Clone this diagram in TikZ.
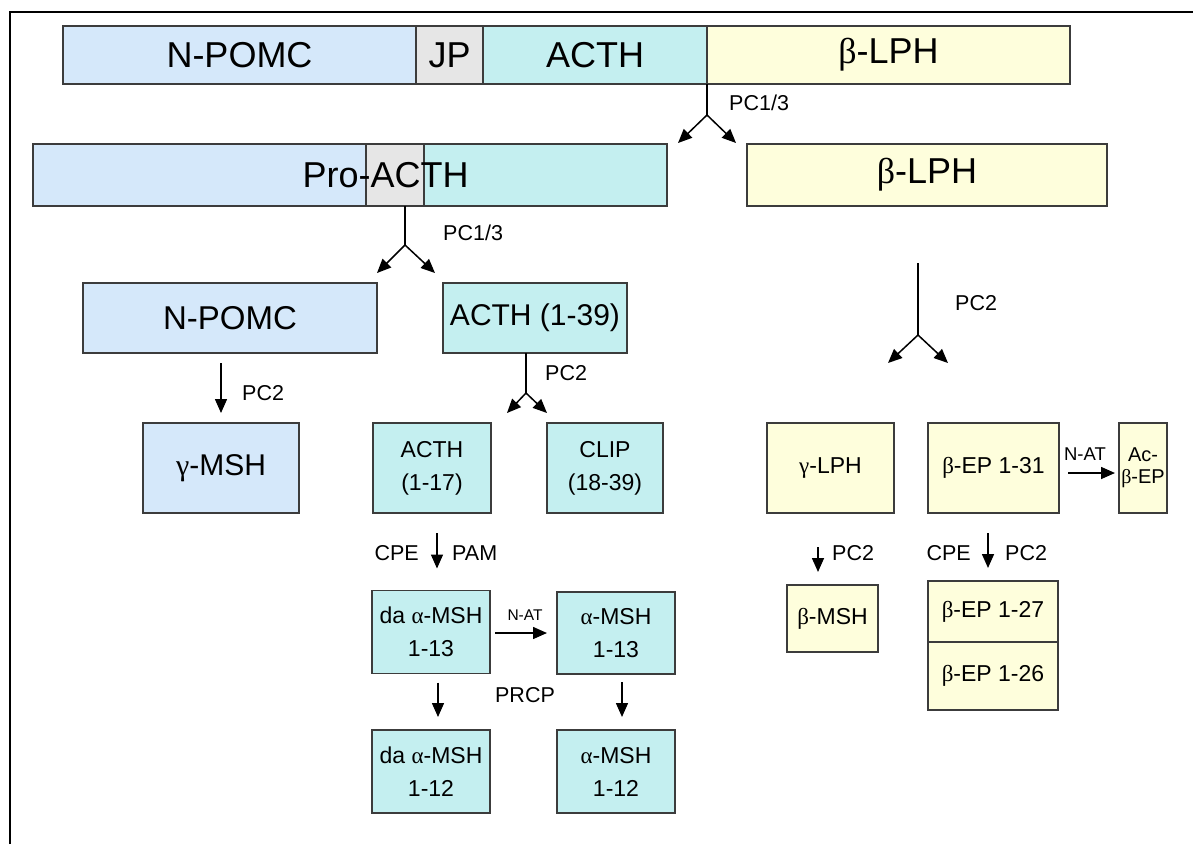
\documentclass[tikz,border=0pt]{standalone}
\usepackage{fontspec}
\setmainfont{Liberation Sans}
\newfontfamily\grk{Liberation Serif}
\usetikzlibrary{arrows.meta,positioning}
\definecolor{pomcInk}{HTML}{3C3C3C}
\definecolor{pomcBlue}{HTML}{D5E8FA}
\definecolor{pomcCyan}{HTML}{C4EFF0}
\definecolor{pomcGray}{HTML}{E6E6E6}
\definecolor{pomcYellow}{HTML}{FEFEDC}
\newcommand\gr[1]{{\grk #1}}
\newcommand\fbar{\fontsize{36}{42}\selectfont}
\newcommand\fmid{\fontsize{30}{36}\selectfont}
\newcommand\fpep{\fontsize{23}{33}\selectfont}
\newcommand\flbl{\fontsize{21.5}{25}\selectfont}
\newcommand\fnat{\fontsize{15.5}{18}\selectfont}
\newcommand\fac{\fontsize{20}{22}\selectfont}
\tikzset{
  pomc seg/.style={draw=pomcInk, line width=1.5pt, inner sep=0pt, outer sep=0pt,
    align=center, font=\fbar},
  pomc box/.style={draw=pomcInk, line width=1.5pt, inner sep=0pt, outer sep=0pt,
    align=center, font=\fpep},
  pomc arrow/.style={-{Triangle[length=14pt,width=12pt]}, draw=black, line width=1.5pt},
  pomc fork/.style={draw=black, line width=1.5pt},
  pomc label/.style={font=\flbl, inner sep=0pt}
}

\begin{document}
\begin{tikzpicture}[x=1pt,y=-1pt]
  \useasboundingbox (0,0) rectangle (1193,844);
  \draw[line width=2.5pt] (10,844) -- (10,12) -- (1193,12);

  % precursor
  \node[pomc seg, fill=pomcBlue, minimum width=353pt, minimum height=58pt] (tnpomc) at (239.5,55) {N-POMC};
  \node[pomc seg, fill=pomcGray, minimum width=67pt, minimum height=58pt, right=0pt of tnpomc] (tjp) {JP};
  \node[pomc seg, fill=pomcCyan, minimum width=224pt, minimum height=58pt, right=0pt of tjp] (tacth) {ACTH};
  \node[pomc seg, fill=pomcYellow, minimum width=363pt, minimum height=58pt, right=0pt of tacth] (tlph) {\gr{β}-LPH};

  \coordinate (f1) at (707,115);
  \coordinate (f1l) at (678,143);
  \coordinate (f1r) at (736,143);
  \draw[pomc fork] (tacth.south east) -- (f1);
  \draw[pomc arrow] (f1) -- (f1l);
  \draw[pomc arrow] (f1) -- (f1r);
  \node[pomc label, anchor=west] (f1lbl) at (729,103) {PC1/3};

  % pro-ACTH and beta-LPH
  \node[pomc seg, fill=pomcBlue, minimum width=333pt, minimum height=62pt] (pnpomc) at (199.5,175) {};
  \node[pomc seg, fill=pomcGray, minimum width=58pt, minimum height=62pt, right=0pt of pnpomc] (pjp) {};
  \node[pomc seg, fill=pomcCyan, minimum width=243pt, minimum height=62pt, right=0pt of pjp] (pacth) {};
  \node[font=\fbar, inner sep=0pt] (ptext) at (385.5,175) {Pro-ACTH};
  \node[pomc seg, fill=pomcYellow, minimum width=360pt, minimum height=62pt] (plph) at (927,175) {\gr{β}-LPH};

  \coordinate (f2) at (405,245);
  \coordinate (f2l) at (377,273);
  \coordinate (f2r) at (435,273);
  \draw[pomc fork] (pjp.south -| f2) -- (f2);
  \draw[pomc arrow] (f2) -- (f2l);
  \draw[pomc arrow] (f2) -- (f2r);
  \node[pomc label, anchor=west] (f2lbl) at (443,233) {PC1/3};

  % ACTH branch
  \node[pomc box, fill=pomcBlue, minimum width=294pt, minimum height=70pt, font=\fontsize{33}{38}\selectfont] (npomc) at (230,318) {N-POMC};
  \node[pomc box, fill=pomcCyan, minimum width=184pt, minimum height=70pt, font=\fmid] (acth39) at (535,318) {ACTH (1-39)};
  \node[pomc box, fill=pomcBlue, minimum width=156pt, minimum height=90pt, font=\fmid] (gmsh) at (221,468) {\gr{γ}-MSH};
  \draw[pomc arrow, shorten <=10pt, shorten >=10pt] (npomc.south -| gmsh.north) -- (gmsh.north);
  \node[pomc label, anchor=west] (gmshlbl) at (242,393) {PC2};

  \coordinate (f3) at (526,393);
  \coordinate (f3l) at (507,413);
  \coordinate (f3r) at (547,413);
  \draw[pomc fork] (acth39.south -| f3) -- (f3);
  \draw[pomc arrow] (f3) -- (f3l);
  \draw[pomc arrow] (f3) -- (f3r);
  \node[pomc label, anchor=west] (f3lbl) at (545,373) {PC2};

  \node[pomc box, fill=pomcCyan, minimum width=118pt, minimum height=90pt] (acth17) at (432,468) {ACTH\\(1-17)};
  \node[pomc box, fill=pomcCyan, minimum width=116pt, minimum height=90pt] (clip) at (605,468) {CLIP\\(18-39)};

  \node[pomc box, fill=pomcCyan, minimum width=118pt, minimum height=83pt] (da13) at (431,632) {da \gr{α}-MSH\\1-13};
  \node[pomc box, fill=pomcCyan, minimum width=118pt, minimum height=82pt] (a13) at (616,633) {\gr{α}-MSH\\1-13};
  \node[pomc box, fill=pomcCyan, minimum width=118pt, minimum height=83pt] (da12) at (431,771.5) {da \gr{α}-MSH\\1-12};
  \node[pomc box, fill=pomcCyan, minimum width=118pt, minimum height=83pt] (a12) at (616,771.5) {\gr{α}-MSH\\1-12};

  \draw[pomc arrow, shorten <=20pt, shorten >=22pt] (acth17.south -| 437,0) -- (da13.north -| 437,0);
  \node[pomc label, anchor=east] (cpe1) at (419,553) {CPE};
  \node[pomc label, anchor=west] (pam) at (452,553) {PAM};
  \draw[pomc arrow, shorten <=5pt, shorten >=10pt] (da13.east |- a13) -- (a13.west);
  \node[font=\fnat, inner sep=0pt] (nat1) at (525,615) {N-AT};
  \draw[pomc arrow, shorten <=9pt, shorten >=13pt] (da13.south -| 438,0) -- (da12.north -| 438,0);
  \draw[pomc arrow, shorten <=8pt, shorten >=13pt] (a13.south -| 622,0) -- (a12.north -| 622,0);
  \node[pomc label] (prcp) at (525,695) {PRCP};

  % beta-LPH branch
  \coordinate (f4t) at (918,263);
  \coordinate (f4) at (918,335);
  \coordinate (f4l) at (888,363);
  \coordinate (f4r) at (948,363);
  \draw[pomc fork] (f4t) -- (f4);
  \draw[pomc arrow] (f4) -- (f4l);
  \draw[pomc arrow] (f4) -- (f4r);
  \node[pomc label, anchor=west] (f4lbl) at (955,303) {PC2};

  \node[pomc box, fill=pomcYellow, minimum width=127pt, minimum height=90pt] (glph) at (830.5,468) {\gr{γ}-LPH};
  \node[pomc box, fill=pomcYellow, minimum width=131pt, minimum height=90pt] (bep31) at (993.5,468) {\gr{β}-EP 1-31};
  \node[pomc box, fill=pomcYellow, minimum width=48pt, minimum height=90pt, font=\fac] (acbep) at (1143,468) {Ac-\\\gr{β}-EP};
  \draw[pomc arrow, shorten <=9pt, shorten >=4pt] (bep31.east |- 0,473) -- (acbep.west |- 0,473);
  \node[font=\fontsize{18.5}{21}\selectfont, inner sep=0pt] (nat2) at (1085,454) {N-AT};

  \node[pomc box, fill=pomcYellow, minimum width=91pt, minimum height=67pt] (bmsh) at (832.5,618.5) {\gr{β}-MSH};
  \node[pomc box, fill=pomcYellow, minimum width=130pt, minimum height=61pt] (bep27) at (993,611.5) {\gr{β}-EP 1-27};
  \node[pomc box, fill=pomcYellow, minimum width=130pt, minimum height=68pt, below=0pt of bep27] (bep26) {\gr{β}-EP 1-26};

  \draw[pomc arrow, shorten <=34pt, shorten >=13pt] (glph.south -| 818,0) -- (bmsh.north -| 818,0);
  \node[pomc label, anchor=west] (pc2b) at (832,553) {PC2};
  \draw[pomc arrow, shorten <=20pt, shorten >=13pt] (bep31.south -| 988,0) -- (bep27.north -| 988,0);
  \node[pomc label, anchor=east] (cpe2) at (971,553) {CPE};
  \node[pomc label, anchor=west] (pc2c) at (1005,553) {PC2};
\end{tikzpicture}
\end{document}
